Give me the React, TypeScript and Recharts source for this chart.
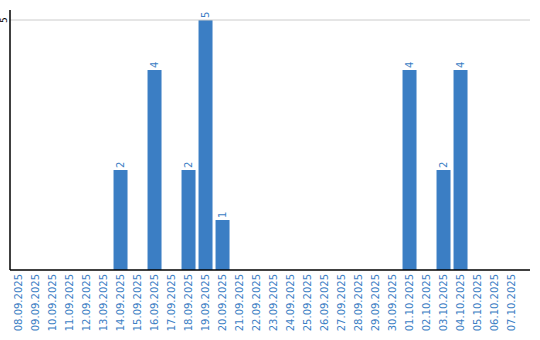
import React from "react";
import { BarChart, Bar, XAxis, YAxis, ReferenceLine, LabelList } from "recharts";

const dates = [
  "08.09.2025", "09.09.2025", "10.09.2025", "11.09.2025", "12.09.2025", "13.09.2025",
  "14.09.2025", "15.09.2025", "16.09.2025", "17.09.2025", "18.09.2025", "19.09.2025",
  "20.09.2025", "21.09.2025", "22.09.2025", "23.09.2025", "24.09.2025", "25.09.2025",
  "26.09.2025", "27.09.2025", "28.09.2025", "29.09.2025", "30.09.2025", "01.10.2025",
  "02.10.2025", "03.10.2025", "04.10.2025", "05.10.2025", "06.10.2025", "07.10.2025",
];
const counts = [0, 0, 0, 0, 0, 0, 2, 0, 4, 0, 2, 5, 1, 0, 0, 0, 0, 0, 0, 0, 0, 0, 0, 4, 0, 2, 4, 0, 0, 0];
const yTicks = [5];

const data = dates.map((d, i) => ({ date: d, value: counts[i] }));

const BLUE = "#3b7ec4";
const FONT = "'DejaVu Sans', sans-serif";

const XTick = (props: any) => {
  const { x, payload } = props;
  return (
    <text
      x={x}
      y={274}
      transform={`rotate(-90, ${x}, 274)`}
      textAnchor="end"
      dominantBaseline="central"
      fontSize={10}
      fontFamily={FONT}
      fill={BLUE}
    >
      {payload.value}
    </text>
  );
};

const YTick = (props: any) => {
  const { y, payload } = props;
  return (
    <text
      x={4}
      y={y}
      transform={`rotate(-90, 4, ${y})`}
      textAnchor="middle"
      dominantBaseline="central"
      fontSize={9}
      fontFamily={FONT}
      fill="#000"
    >
      {payload.value}
    </text>
  );
};

const ValueLabel = (props: any) => {
  const { x, y, width, value } = props;
  if (!value) return null;
  const cx = x + width / 2;
  const ty = y - 2;
  return (
    <text
      x={cx}
      y={ty}
      transform={`rotate(-90, ${cx}, ${ty})`}
      textAnchor="start"
      dominantBaseline="central"
      fontSize={10}
      fontFamily={FONT}
      fill={BLUE}
    >
      {value}
    </text>
  );
};

export default function App() {
  return (
    <div style={{ position: "absolute", left: 0, top: 0, background: "#fff" }}>
      <BarChart
        width={540}
        height={340}
        data={data}
        margin={{ top: 10, right: 10, bottom: 0, left: 0 }}
        barCategoryGap="9%"
      >
        <ReferenceLine y={5} stroke="#cccccc" />
        <XAxis
          dataKey="date"
          interval={0}
          height={70}
          tickLine={false}
          axisLine={{ stroke: "#000", strokeWidth: 1.5 }}
          padding={{ left: 0, right: 10 }}
          tick={<XTick />}
        />
        <YAxis
          width={10}
          domain={[0, 5.2]}
          ticks={yTicks}
          tickLine={false}
          axisLine={{ stroke: "#000", strokeWidth: 1.5 }}
          tick={<YTick />}
        />
        <Bar dataKey="value" fill={BLUE} isAnimationActive={false}>
          <LabelList dataKey="value" content={<ValueLabel />} />
        </Bar>
      </BarChart>
    </div>
  );
}
